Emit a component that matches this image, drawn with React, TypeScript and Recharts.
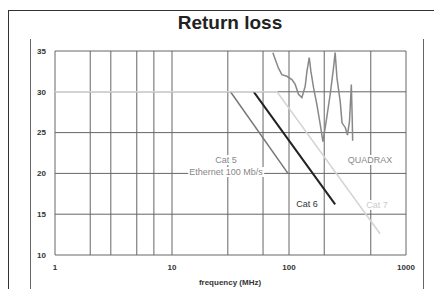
import { LineChart, Line, XAxis, YAxis, CartesianGrid } from "recharts";

// frequency in MHz, return loss in dB
const cat5Freq = [31.6, 98];
const cat5Loss = [30, 20];

const cat6Freq = [50, 248];
const cat6Loss = [30, 16.2];

const cat7Freq = [1, 79, 600];
const cat7Loss = [30, 30, 12.6];

const quadraxFreq = [
  72.8, 76.2, 81.3, 86.9, 95.9, 105.9, 113, 120.5, 128.9, 137.6, 142.3, 148.9, 153.9, 162.1,
  173.3, 184.9, 195, 208, 225, 240, 248, 257, 274, 284, 303, 316, 329, 341, 347, 350,
];
const quadraxLoss = [
  34.8, 34, 32.9, 32.1, 31.9, 31.5, 30.9, 29.7, 29.3, 30.7, 32.5, 34.2, 32.5, 30.5,
  28.4, 26, 23.9, 26.4, 29.7, 32.9, 34.8, 31.7, 28.8, 26.2, 25.6, 24.7, 26.4, 30.9, 26.8, 24,
];

const xTicks = [1, 10, 100, 1000];
const yTicks = [10, 15, 20, 25, 30, 35];
const gridFreqs = [1, 2, 3, 4, 5, 6, 7, 8, 9, 10, 20, 30, 40, 50, 60, 70, 80, 90, 100, 200, 300, 400, 500, 600, 700, 800, 900, 1000];

const toPoints = (f: number[], v: number[]) => f.map((x, i) => ({ f: x, db: v[i] }));

const tickStyle = { fontSize: 8, fontWeight: 700, fill: "#333", fontFamily: "Arial, 'Liberation Sans', sans-serif" };

const labelBase: React.CSSProperties = {
  position: "absolute",
  fontSize: 9,
  fontFamily: "Arial, 'Liberation Sans', sans-serif",
  background: "#fff",
  lineHeight: "10px",
  padding: "0 1px",
  transform: "translate(-50%, -50%)",
  whiteSpace: "nowrap",
};

export default function App() {
  return (
    <div style={{ position: "absolute", left: 0, top: 0, width: 434, height: 289, background: "#fff", overflow: "hidden" }}>
      {/* outer frame */}
      <div style={{ position: "absolute", left: 8, top: 10, width: 440, height: 300, borderLeft: "1.5px solid #333", borderTop: "1.5px solid #333" }} />
      {/* inner frame */}
      <div style={{ position: "absolute", left: 30, top: 39, width: 1, height: 260, background: "#666" }} />
      <div style={{ position: "absolute", left: 423, top: 39, width: 1, height: 260, background: "#666" }} />
      <div
        style={{
          position: "absolute",
          left: 130,
          width: 200,
          top: 12,
          textAlign: "center",
          fontSize: 19,
          fontWeight: 700,
          fontFamily: "Arial, 'Liberation Sans', sans-serif",
          color: "#222",
          lineHeight: "22px",
        }}
      >
        Return loss
      </div>
      <div style={{ position: "absolute", left: 0, top: 0 }}>
        <LineChart width={434} height={289} margin={{ top: 51, right: 28, left: 25, bottom: 14 }}>
          <CartesianGrid stroke="#666" strokeWidth={1} verticalValues={gridFreqs} horizontalValues={yTicks} />
          <XAxis
            dataKey="f"
            type="number"
            scale="log"
            domain={[1, 1000]}
            ticks={xTicks}
            allowDataOverflow
            axisLine={false}
            tickLine={false}
            tickSize={0}
            tickMargin={9}
            height={20}
            tick={tickStyle}
          />
          <YAxis
            type="number"
            domain={[10, 35]}
            ticks={yTicks}
            axisLine={false}
            tickLine={false}
            tickSize={0}
            tickMargin={9}
            width={30}
            tick={tickStyle}
          />
          <Line data={toPoints(cat5Freq, cat5Loss)} dataKey="db" stroke="#777" strokeWidth={1.5} dot={false} isAnimationActive={false} />
          <Line data={toPoints(cat6Freq, cat6Loss)} dataKey="db" stroke="#222" strokeWidth={2} dot={false} isAnimationActive={false} />
          <Line data={toPoints(quadraxFreq, quadraxLoss)} dataKey="db" stroke="#888" strokeWidth={1.5} dot={false} isAnimationActive={false} />
          <Line data={toPoints(cat7Freq, cat7Loss)} dataKey="db" stroke="#d4d4d4" strokeWidth={1.5} dot={false} isAnimationActive={false} />
        </LineChart>
      </div>
      <div style={{ ...labelBase, left: 226, top: 160, color: "#888" }}>Cat 5</div>
      <div style={{ ...labelBase, left: 226, top: 172, color: "#888" }}>Ethernet 100 Mb/s</div>
      <div style={{ ...labelBase, left: 370, top: 160, color: "#888" }}>QUADRAX</div>
      <div style={{ ...labelBase, left: 307, top: 204, color: "#333" }}>Cat 6</div>
      <div style={{ ...labelBase, left: 377, top: 205, color: "#ccc" }}>Cat 7</div>
      <div
        style={{
          position: "absolute",
          left: 130,
          width: 200,
          top: 278,
          textAlign: "center",
          fontSize: 8,
          fontWeight: 700,
          fontFamily: "Arial, 'Liberation Sans', sans-serif",
          color: "#333",
          lineHeight: "10px",
        }}
      >
        frequency (MHz)
      </div>
    </div>
  );
}
